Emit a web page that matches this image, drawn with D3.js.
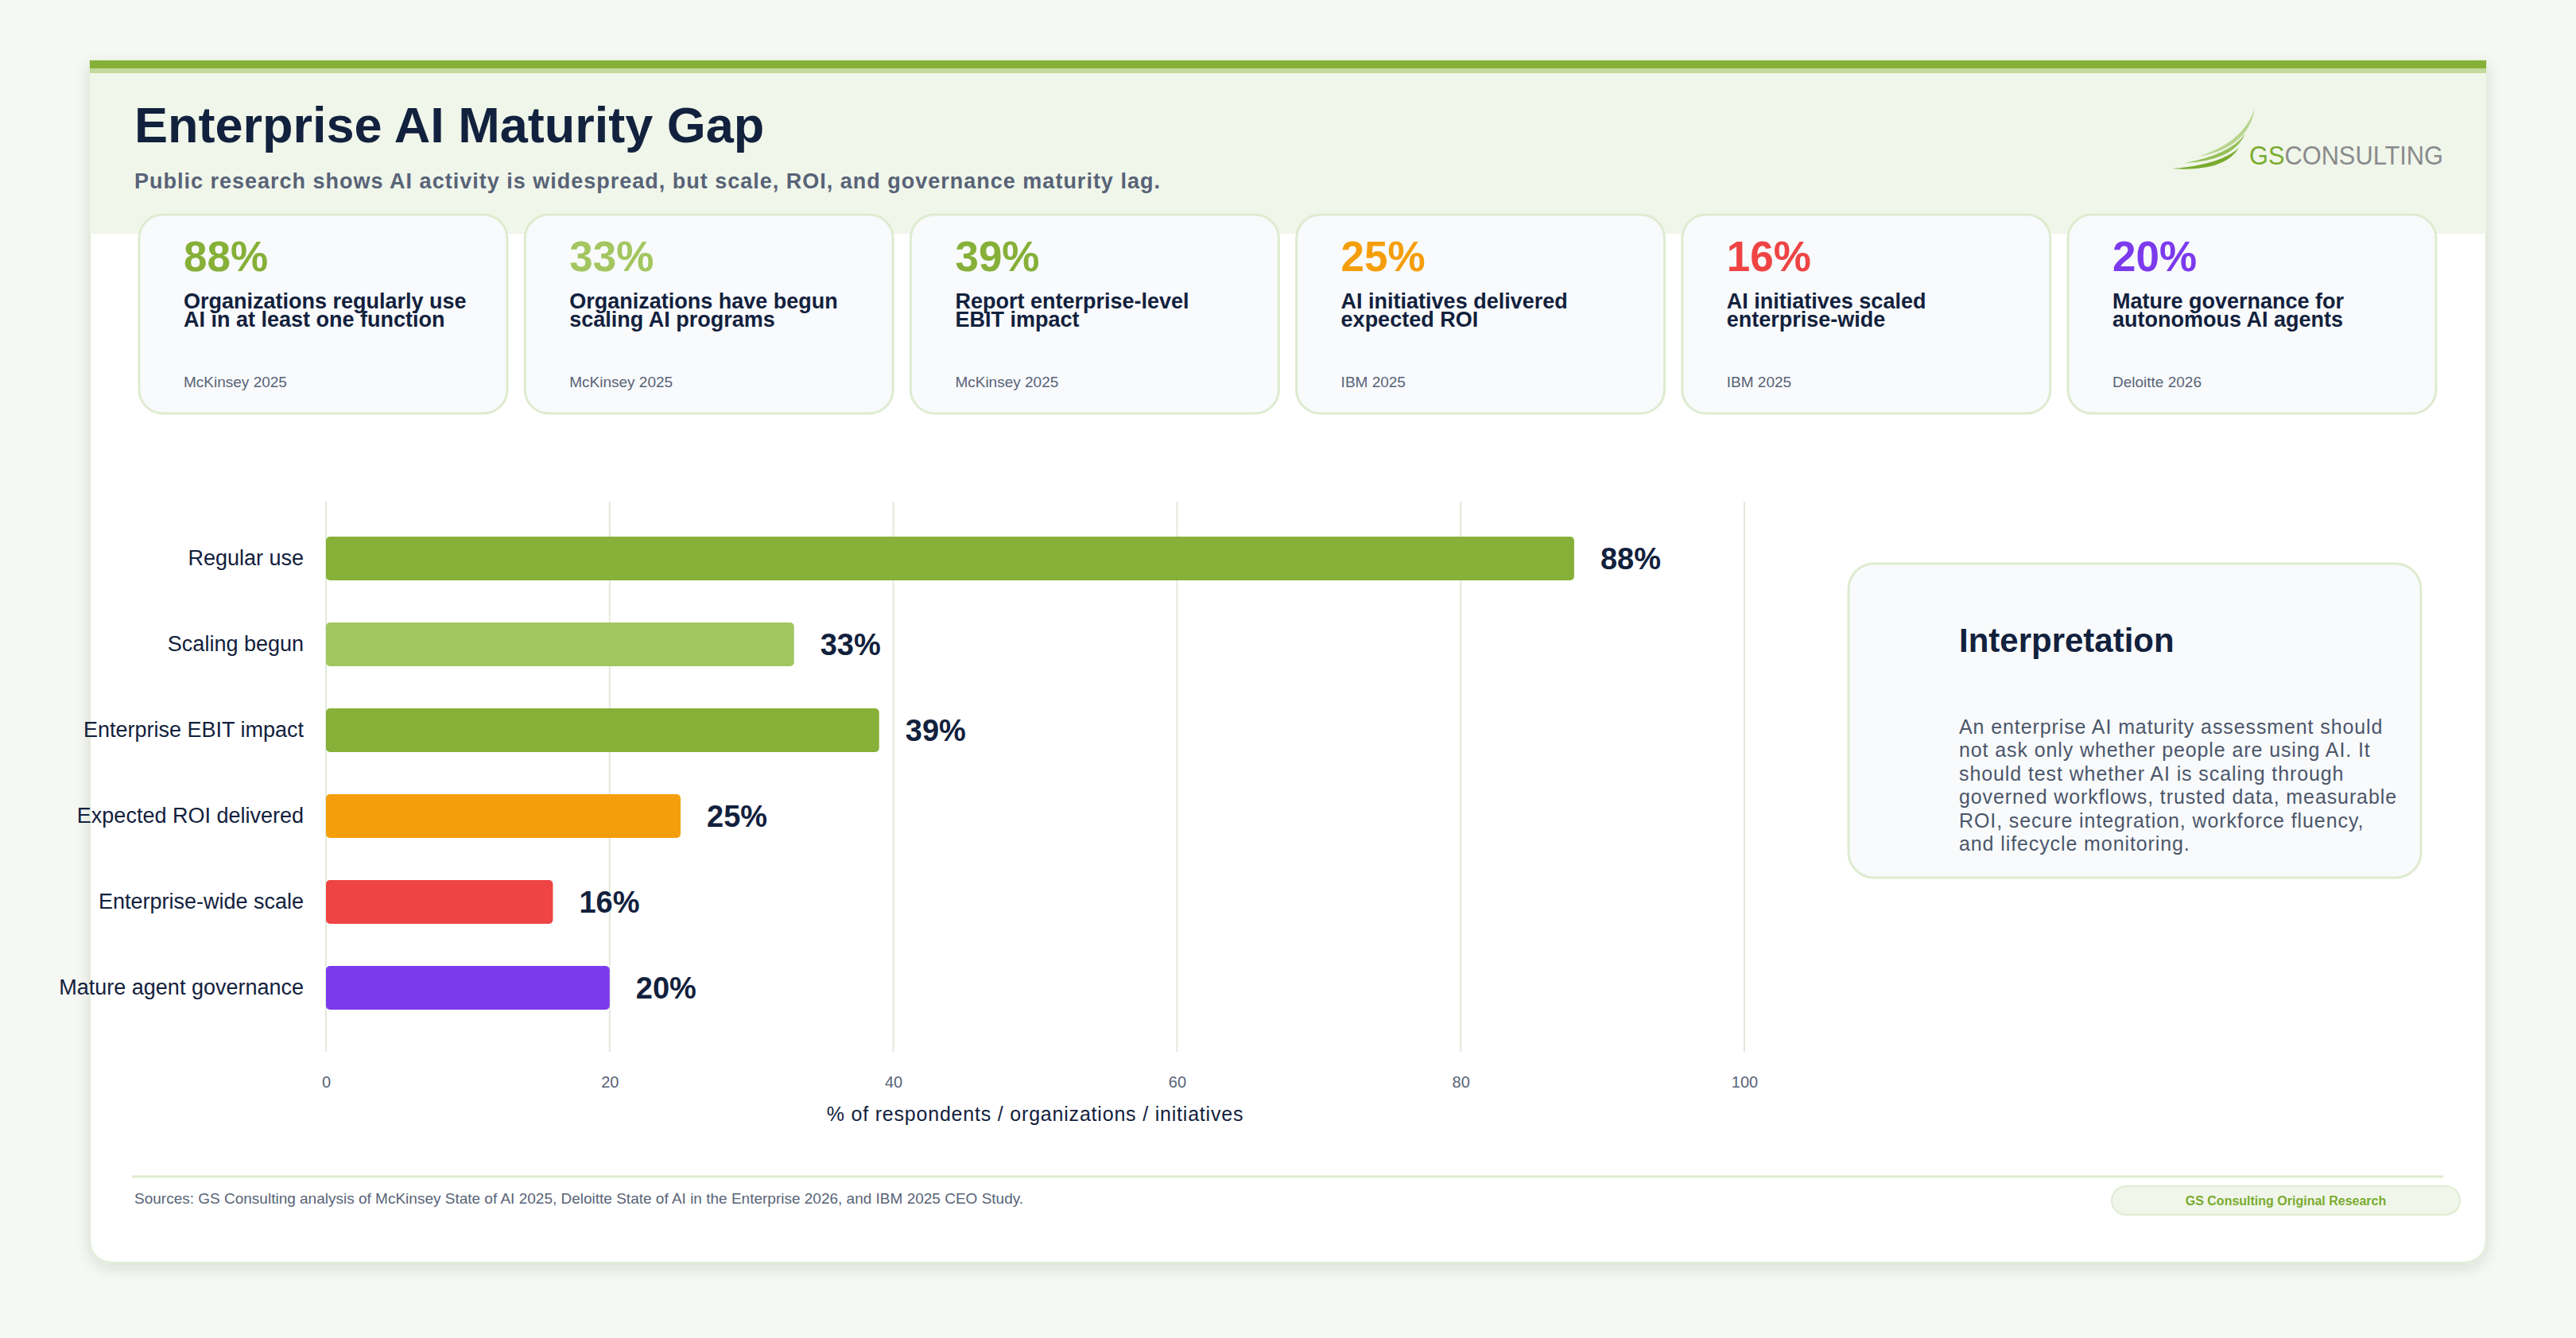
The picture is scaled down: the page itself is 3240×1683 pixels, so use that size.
<!DOCTYPE html>
<html lang="en">
<head>
  <meta charset="UTF-8">
  <title>Enterprise AI Maturity Gap</title>
  <script src="https://d3js.org/d3.v7.min.js"></script>
  <style>
    body {
      margin: 0;
      background: #f6f8f3;
      font-family: "Liberation Sans", Arial, sans-serif;
    }
    svg text {
      font-family: "Liberation Sans", Arial, sans-serif;
    }
  </style>
</head>
<body>
  <svg id="chart" width="3240" height="1683"></svg>

  <script>
    // chart data
    const categories = ["Regular use", "Scaling begun", "Enterprise EBIT impact", "Expected ROI delivered", "Enterprise-wide scale", "Mature agent governance"];
    const values = [88, 33, 39, 25, 16, 20];
    const barColors = ["#86b038", "#a3c660", "#86b038", "#f59e0b", "#ef4444", "#7c3aed"];
    const xTicks = [0, 20, 40, 60, 80, 100];

    // KPI cards
    const kpiValues = [88, 33, 39, 25, 16, 20];
    const kpiLabels = [
      ["Organizations regularly use", "AI in at least one function"],
      ["Organizations have begun", "scaling AI programs"],
      ["Report enterprise-level", "EBIT impact"],
      ["AI initiatives delivered", "expected ROI"],
      ["AI initiatives scaled", "enterprise-wide"],
      ["Mature governance for", "autonomous AI agents"]
    ];
    const kpiSources = ["McKinsey 2025", "McKinsey 2025", "McKinsey 2025", "IBM 2025", "IBM 2025", "Deloitte 2026"];

    const interpretation = [
      "An enterprise AI maturity assessment should",
      "not ask only whether people are using AI. It",
      "should test whether AI is scaling through",
      "governed workflows, trusted data, measurable",
      "ROI, secure integration, workforce fluency,",
      "and lifecycle monitoring."
    ];

    const navy = "#12213d";
    const slate = "#586377";
    const softGreen = "#deebd0";

    const svg = d3.select("#chart");
    const defs = svg.append("defs");

    const shadow = defs.append("filter").attr("id", "shadow")
      .attr("x", "-5%").attr("y", "-5%").attr("width", "110%").attr("height", "115%");
    shadow.append("feDropShadow")
      .attr("dx", 0).attr("dy", 6).attr("stdDeviation", 9)
      .attr("flood-color", "#1f2a10").attr("flood-opacity", 0.12);

    // outer card
    const card = { x: 113, y: 76, w: 3014, h: 1512 };
    svg.append("path")
      .attr("d", `M${card.x},${card.y} H${card.x + card.w} V${card.y + card.h - 32} Q${card.x + card.w},${card.y + card.h} ${card.x + card.w - 32},${card.y + card.h} H${card.x + 32} Q${card.x},${card.y + card.h} ${card.x},${card.y + card.h - 32} Z`)
      .attr("fill", "#ffffff")
      .attr("stroke", "#e3eed8")
      .attr("stroke-width", 2)
      .attr("filter", "url(#shadow)");

    // header band
    svg.append("rect").attr("x", card.x).attr("y", card.y).attr("width", card.w).attr("height", 218).attr("fill", "#f0f6ea");
    svg.append("rect").attr("x", card.x).attr("y", card.y).attr("width", card.w).attr("height", 10).attr("fill", "#86b038");
    svg.append("rect").attr("x", card.x).attr("y", card.y + 10).attr("width", card.w).attr("height", 6).attr("fill", "#c4da9c");

    svg.append("text")
      .attr("x", 169).attr("y", 179)
      .attr("font-size", 63).attr("font-weight", 700).attr("fill", navy)
      .text("Enterprise AI Maturity Gap");

    svg.append("text")
      .attr("x", 169).attr("y", 237)
      .attr("font-size", 27).attr("font-weight", 700).attr("fill", slate)
      .attr("letter-spacing", 1)
      .text("Public research shows AI activity is widespread, but scale, ROI, and governance maturity lag.");

    // logo
    const logo = svg.append("g");
    const swooshes = [
      { s: [2765, 197], t: [2836, 136], c1: [2828, 186], c2: [2822, 179], c: "#b7d48d" },
      { s: [2748, 205], t: [2824, 168], c1: [2810, 202], c2: [2806, 194], c: "#97c05a" },
      { s: [2732, 212], t: [2816, 186], c1: [2797, 217], c2: [2793, 207], c: "#7aab2f" }
    ];
    logo.selectAll("path").data(swooshes).enter().append("path")
      .attr("d", d => `M${d.s} Q${d.c1} ${d.t} Q${d.c2} ${d.s} Z`)
      .attr("fill", d => d.c);
    const logoText = logo.append("text")
      .attr("x", 2829).attr("y", 207)
      .attr("font-size", 34).attr("font-family", "'DejaVu Sans', sans-serif")
      .attr("textLength", 244).attr("lengthAdjust", "spacingAndGlyphs");
    logoText.append("tspan").attr("fill", "#7aab2f").attr("font-weight", 400).text("GS");
    logoText.append("tspan").attr("fill", "#8a8b8d").attr("font-weight", 300).text("CONSULTING");

    // KPI cards
    const kpiW = 463, kpiH = 250, kpiGap = 22.2, kpiX0 = 175, kpiY = 270;
    const kpi = svg.selectAll(".kpi")
      .data(kpiValues)
      .enter().append("g")
      .attr("class", "kpi")
      .attr("transform", (d, i) => `translate(${kpiX0 + i * (kpiW + kpiGap)},${kpiY})`);

    kpi.append("rect")
      .attr("width", kpiW).attr("height", kpiH).attr("rx", 30)
      .attr("fill", "#f8fafc").attr("stroke", softGreen).attr("stroke-width", 3);

    kpi.append("text")
      .attr("x", 56).attr("y", 71)
      .attr("font-size", 53).attr("font-weight", 700)
      .attr("fill", (d, i) => barColors[i])
      .text(d => d + "%");

    kpi.append("text")
      .attr("font-size", 27).attr("font-weight", 700).attr("fill", navy)
      .selectAll("tspan")
      .data((d, i) => kpiLabels[i])
      .enter().append("tspan")
      .attr("x", 56).attr("y", (d, j) => 118 + j * 23)
      .text(d => d);

    kpi.append("text")
      .attr("x", 56).attr("y", 217)
      .attr("font-size", 19).attr("fill", slate)
      .text((d, i) => kpiSources[i]);

    // bar chart
    const x = d3.scaleLinear().domain([0, 100]).range([410, 2194]);
    const y = d3.scaleBand().domain(categories).range([648.5, 1296.5]).paddingInner(0.49).paddingOuter(0.245);

    svg.append("g")
      .selectAll("line")
      .data(xTicks)
      .enter().append("line")
      .attr("x1", d => x(d)).attr("x2", d => x(d))
      .attr("y1", 631).attr("y2", 1323)
      .attr("stroke", "#e2eadb").attr("stroke-width", 2);

    const xAxis = svg.append("g")
      .attr("transform", "translate(0,1354)")
      .call(d3.axisBottom(x).tickValues(xTicks).tickSize(0).tickPadding(0));
    xAxis.select(".domain").remove();
    xAxis.selectAll("text")
      .attr("font-size", 20).attr("fill", slate)
      .attr("font-family", "'Liberation Sans', Arial, sans-serif");

    svg.append("text")
      .attr("x", (x(0) + x(100)) / 2).attr("y", 1410)
      .attr("text-anchor", "middle")
      .attr("font-size", 25).attr("letter-spacing", 0.8).attr("fill", navy)
      .text("% of respondents / organizations / initiatives");

    const yAxis = svg.append("g")
      .attr("transform", "translate(382,0)")
      .call(d3.axisLeft(y).tickSize(0).tickPadding(0));
    yAxis.select(".domain").remove();
    yAxis.selectAll("text")
      .attr("font-size", 27).attr("fill", navy)
      .attr("font-family", "'Liberation Sans', Arial, sans-serif");

    svg.append("g")
      .selectAll("rect")
      .data(values)
      .enter().append("rect")
      .attr("x", x(0))
      .attr("y", (d, i) => y(categories[i]))
      .attr("width", d => x(d) - x(0))
      .attr("height", y.bandwidth())
      .attr("rx", 5)
      .attr("fill", (d, i) => barColors[i]);

    svg.append("g")
      .selectAll("text")
      .data(values)
      .enter().append("text")
      .attr("x", d => x(d) + 33)
      .attr("y", (d, i) => y(categories[i]) + y.bandwidth() / 2)
      .attr("dy", "0.35em")
      .attr("font-size", 38).attr("font-weight", 700).attr("fill", navy)
      .text(d => d + "%");

    // interpretation panel
    const panel = svg.append("g").attr("transform", "translate(2325,709)");
    panel.append("rect")
      .attr("width", 720).attr("height", 395).attr("rx", 32)
      .attr("fill", "#f8fafc").attr("stroke", softGreen).attr("stroke-width", 3);
    panel.append("text")
      .attr("x", 139).attr("y", 111)
      .attr("font-size", 42).attr("font-weight", 700).attr("fill", navy)
      .text("Interpretation");
    panel.append("text")
      .attr("font-size", 25).attr("letter-spacing", 0.9).attr("fill", "#4b566a")
      .selectAll("tspan")
      .data(interpretation)
      .enter().append("tspan")
      .attr("x", 139).attr("y", (d, i) => 214 + i * 29.4)
      .text(d => d);

    // footer
    svg.append("line")
      .attr("x1", 166).attr("x2", 3073).attr("y1", 1480).attr("y2", 1480)
      .attr("stroke", softGreen).attr("stroke-width", 3);

    svg.append("text")
      .attr("x", 169).attr("y", 1514)
      .attr("font-size", 19).attr("fill", slate)
      .text("Sources: GS Consulting analysis of McKinsey State of AI 2025, Deloitte State of AI in the Enterprise 2026, and IBM 2025 CEO Study.");

    svg.append("rect")
      .attr("x", 2656).attr("y", 1492).attr("width", 438).attr("height", 36).attr("rx", 18)
      .attr("fill", "#f0f6ea").attr("stroke", "#e0ecd3").attr("stroke-width", 2);
    svg.append("text")
      .attr("x", 2875).attr("y", 1516)
      .attr("text-anchor", "middle")
      .attr("font-size", 16).attr("font-weight", 700).attr("fill", "#7aab2f")
      .text("GS Consulting Original Research");
  </script>
</body>
</html>
